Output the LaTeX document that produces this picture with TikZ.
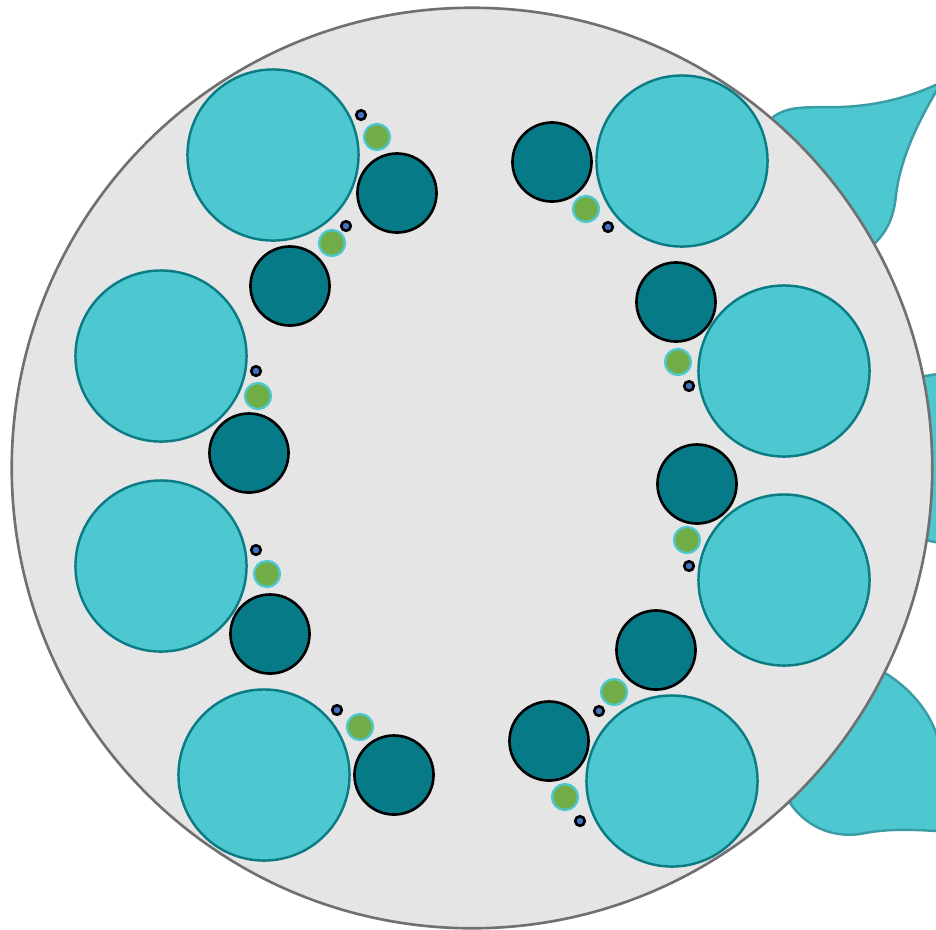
\documentclass[tikz,border=0pt]{standalone}
\usepackage{tikz}
\definecolor{lumencyan}{HTML}{4EC8D0}
\definecolor{lumenteal}{HTML}{077A87}
\definecolor{lumenedge}{HTML}{0B7C86}
\definecolor{lobeedge}{HTML}{3A9CA4}
\definecolor{podgreen}{HTML}{70AD47}
\definecolor{dotblue}{HTML}{4472C4}
\definecolor{wallgray}{HTML}{E5E5E5}
\definecolor{rimgray}{HTML}{707070}

\begin{document}
\begin{tikzpicture}[x=0.01cm, y=-0.01cm]
    \tikzstyle{lobe}=[fill=lumencyan, draw=lobeedge, line width=0.7pt]
    \tikzstyle{bigcell}=[circle, inner sep=0pt, minimum size=1.71cm, fill=lumencyan, draw=lumenedge, line width=0.7pt]
    \tikzstyle{tealcell}=[circle, inner sep=0pt, minimum size=0.79cm, fill=lumenteal, draw=black, line width=0.75pt]
    \tikzstyle{pod}=[circle, inner sep=0pt, minimum size=0.26cm, fill=podgreen, draw=lumencyan, line width=0.65pt]
    \tikzstyle{dot}=[circle, inner sep=0pt, minimum size=0.095cm, fill=dotblue, draw=black, line width=0.75pt]

    \useasboundingbox (0,0) rectangle (936,929);
    \clip (0,0) rectangle (936,929);

    % lobes behind the wall
    \draw[lobe] (750,170) -- (772,118) .. controls (788,104) and (815,108) .. (840,107)
        .. controls (870,106) and (905,100) .. (942,82)
        .. controls (918,120) and (900,160) .. (896,195)
        .. controls (893,225) and (882,238) .. (865,252) -- cycle;
    \draw[lobe] (900,380) -- (925,376) -- (950,372) -- (950,545) -- (925,540) -- (900,530) -- cycle;
    \draw[lobe] (820,720) -- (885,673) .. controls (905,685) and (925,705) .. (935,730)
        .. controls (945,760) and (948,800) .. (950,832)
        .. controls (900,828) and (880,830) .. (860,834)
        .. controls (830,838) and (805,825) .. (790,803) -- cycle;

    % wall
    \node[circle, inner sep=0pt, minimum size=9.2cm, fill=wallgray, draw=rimgray, line width=0.75pt] (wall) at (472,468) {};

    % big cells
    \node[bigcell] (bigNW) at (273,155) {};
    \node[bigcell] (bigNE) at (682,161) {};
    \node[bigcell] (bigW1) at (161,356) {};
    \node[bigcell] (bigE1) at (784,371) {};
    \node[bigcell] (bigW2) at (161,566) {};
    \node[bigcell] (bigE2) at (784,580) {};
    \node[bigcell] (bigSW) at (264,775) {};
    \node[bigcell] (bigSE) at (672,781) {};

    % teal cells
    \node[tealcell] (tealNW1) at (397,193) {};
    \node[tealcell] (tealNW2) at (290,286) {};
    \node[tealcell] (tealNE)  at (552,162) {};
    \node[tealcell] (tealE1)  at (676,302) {};
    \node[tealcell] (tealW1)  at (249,453) {};
    \node[tealcell] (tealE2)  at (697,484) {};
    \node[tealcell] (tealW2)  at (270,634) {};
    \node[tealcell] (tealSE1) at (656,650) {};
    \node[tealcell] (tealSW)  at (394,775) {};
    \node[tealcell] (tealSE2) at (549,741) {};

    % green pods
    \node[pod] (podNW1) at (377,137) {};
    \node[pod] (podNW2) at (332,243) {};
    \node[pod] (podNE)  at (586,209) {};
    \node[pod] (podE1)  at (678,362) {};
    \node[pod] (podW1)  at (258,396) {};
    \node[pod] (podE2)  at (687,540) {};
    \node[pod] (podW2)  at (267,574) {};
    \node[pod] (podSE1) at (614,692) {};
    \node[pod] (podSW)  at (360,727) {};
    \node[pod] (podSE2) at (565,797) {};

    % blue dots
    \node[dot] (dotNW1) at (361,115) {};
    \node[dot] (dotNW2) at (346,226) {};
    \node[dot] (dotNE)  at (608,227) {};
    \node[dot] (dotE1)  at (689,386) {};
    \node[dot] (dotW1)  at (256,371) {};
    \node[dot] (dotE2)  at (689,566) {};
    \node[dot] (dotW2)  at (256,550) {};
    \node[dot] (dotSE1) at (599,711) {};
    \node[dot] (dotSW)  at (337,710) {};
    \node[dot] (dotSE2) at (580,821) {};
\end{tikzpicture}
\end{document}
